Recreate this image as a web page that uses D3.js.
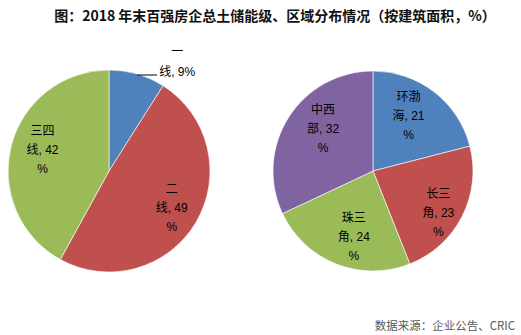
<!DOCTYPE html>
<html><head><meta charset="utf-8">
<script src="https://cdn.jsdelivr.net/npm/d3@7"></script>
<style>
html,body{margin:0;padding:0;background:#fff;}
svg{display:block;font-family:"Liberation Sans","Noto Sans CJK SC",sans-serif;}
</style></head>
<body>
<script>
const title = "图：2018 年末百强房企总土储能级、区域分布情况（按建筑面积，%）";
const source = "数据来源：企业公告、CRIC";

const levelNames = ["一线", "二线", "三四线"];
const levelValues = [9, 49, 42];
const levelLabelLines = [["一", "线, 9%"], ["二", "线, 49", "%"], ["三四", "线, 42", "%"]];

const regionNames = ["环渤海", "长三角", "珠三角", "中西部"];
const regionValues = [21, 23, 24, 32];
const regionLabelLines = [["环渤", "海, 21", "%"], ["长三", "角, 23", "%"], ["珠三", "角, 24", "%"], ["中西", "部, 32", "%"]];

const colors = ["#4F81BD", "#C0504D", "#9BBB59", "#8064A2"];

// small label nudges (layout only), in px from the slice label point
const levelNudge = [[0, 0], [1, 0], [3, -3]];
const regionNudge = [[-8, 1], [2, 10], [7, 0], [10, -4]];

const W = 521, H = 335;
const svg = d3.select("body").append("svg").attr("width", W).attr("height", H);

svg.append("text").attr("x", 275).attr("y", 15)
  .attr("text-anchor", "middle").attr("dominant-baseline", "central")
  .attr("font-size", 14).attr("font-weight", "bold").attr("fill", "#111")
  .attr("font-family", "'Noto Sans CJK SC','Liberation Sans',sans-serif")
  .text(title);

svg.append("text").attr("x", 515).attr("y", 325)
  .attr("text-anchor", "end").attr("dominant-baseline", "central")
  .attr("font-size", 11.5).attr("fill", "#595959")
  .attr("font-family", "'Noto Sans CJK SC','Liberation Sans',sans-serif")
  .text(source);

function drawPie(cx, cy, r, values, labels, nudges, outsideIdx) {
  const g = svg.append("g").attr("transform", `translate(${cx},${cy})`);
  const pie = d3.pie().sort(null).value(d => d);
  const arcs = pie(values);
  const arc = d3.arc().innerRadius(0).outerRadius(r);
  g.selectAll("path").data(arcs).enter().append("path")
    .attr("d", arc).attr("fill", (d, i) => colors[i])
    .attr("stroke", "#fff").attr("stroke-width", 0.6);
  const lh = 19;
  const labelArc = d3.arc().innerRadius(r * 1.42).outerRadius(0);
  arcs.forEach((a, i) => {
    const lines = labels[i];
    const mid = (a.startAngle + a.endAngle) / 2;
    if (i === outsideIdx) {
      const px = Math.sin(mid) * r, py = -Math.cos(mid) * r;
      g.append("line").attr("x1", px).attr("y1", py + 1).attr("x2", px + 20).attr("y2", py + 1)
        .attr("stroke", "#000").attr("stroke-width", 1);
      const bx = px + 40;
      lines.forEach((t, k) => {
        g.append("text").attr("x", bx).attr("y", py - 22 + k * 20)
          .attr("text-anchor", "middle").attr("dominant-baseline", "central")
          .attr("font-size", 12).attr("fill", "#000")
          .text(t);
      });
    } else {
      const c = labelArc.centroid(a);
      const nx = c[0] + nudges[i][0], ny = c[1] + nudges[i][1];
      const n = lines.length;
      lines.forEach((t, k) => {
        g.append("text").attr("x", nx).attr("y", ny + (k - (n - 1) / 2) * lh)
          .attr("text-anchor", "middle").attr("dominant-baseline", "central")
          .attr("font-size", 12).attr("fill", "#000")
          .text(t);
      });
    }
  });
}

drawPie(109, 171, 101, levelValues, levelLabelLines, levelNudge, 0);
drawPie(373, 171, 100, regionValues, regionLabelLines, regionNudge, -1);
</script>
</body></html>
